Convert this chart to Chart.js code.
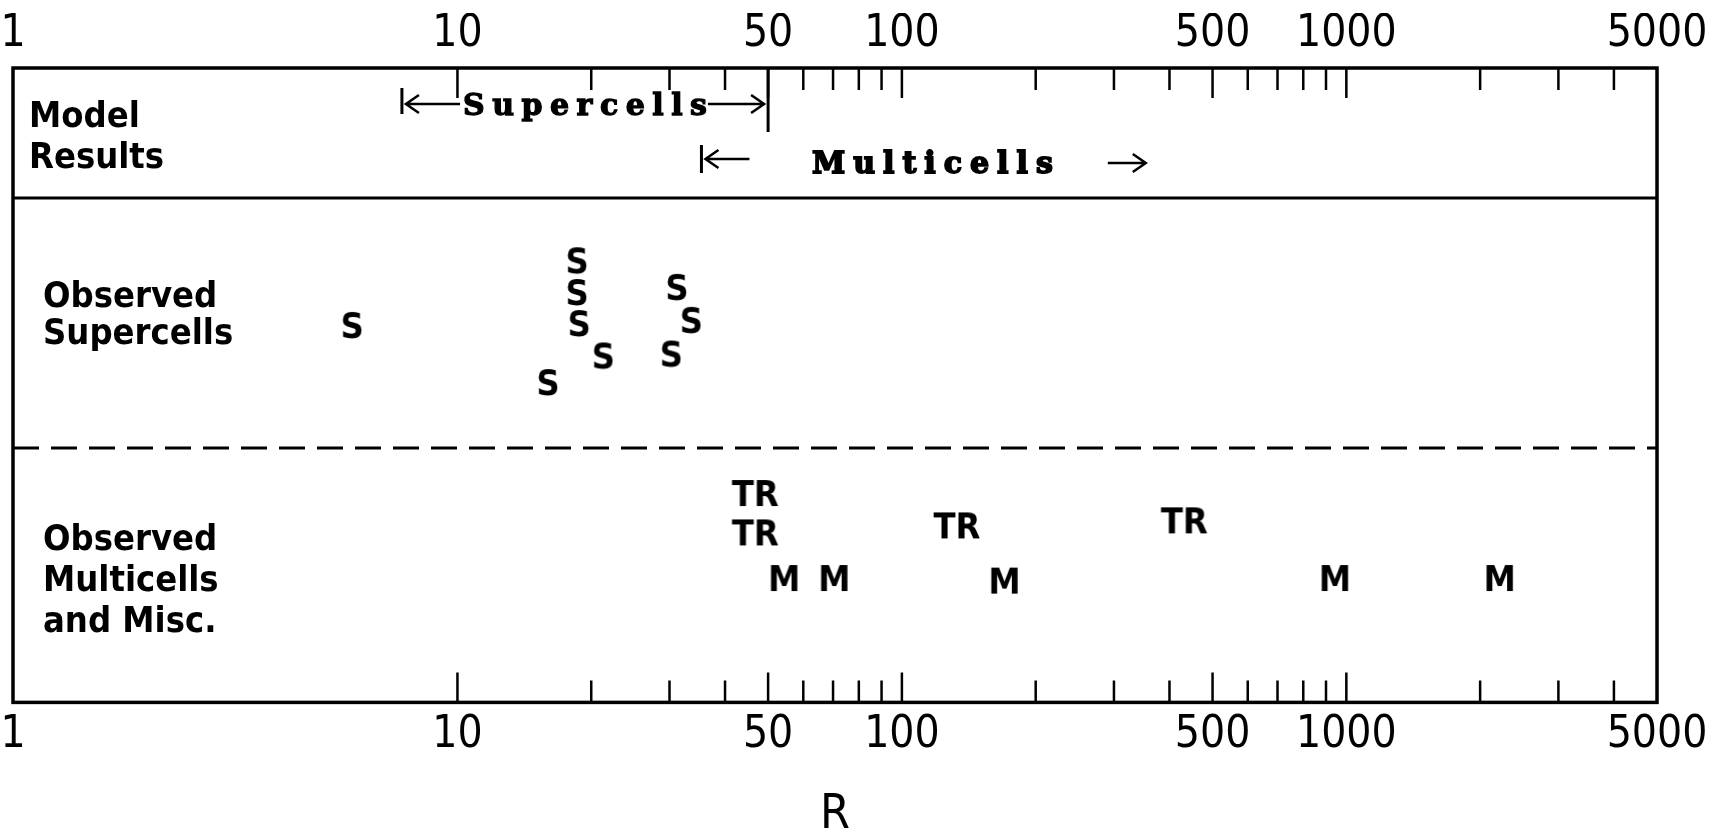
<!DOCTYPE html>
<html>
<head>
<meta charset="utf-8">
<title>R</title>
<script src="https://cdn.jsdelivr.net/npm/chart.js@4.4.1/dist/chart.umd.min.js"></script>
<style>
  html, body { margin: 0; padding: 0; background: #fff; overflow: hidden; }
  #wrap { width: 1726px; height: 832px; }
</style>
</head>
<body>
<div id="wrap"><canvas id="rChart"></canvas></div>
<script>
// values: R on a log axis, row = height inside the frame (0..100)
const tickLabels = [1, 10, 50, 100, 500, 1000, 5000];
const longTicks = [10, 50, 100, 500, 1000];
const shortTicks = [20, 30, 40, 60, 70, 80, 90, 200, 300, 400, 600, 700, 800, 900, 2000, 3000, 4000];

const superR = [5.8, 18.6, 18.6, 18.8, 21.3, 16.0, 31.2, 33.6, 30.3];
const superRow = [59.5, 69.7, 64.7, 59.8, 54.7, 50.5, 65.5, 60.3, 55.0];
const tornR = [46.8, 46.8, 133, 432];
const tornRow = [33.0, 26.8, 27.9, 28.7];
const multiR = [54.3, 70.4, 170, 942, 2212];
const multiRow = [19.6, 19.6, 19.2, 19.6, 19.6];

const modelSuper = [7.5, 50];   // model says supercells in this range
const modelMulti = 35.4;        // model says multicells from here up
const panelBreaks = [79.5, 40.1];
const panelNames = [['Model', 'Results'], ['Observed', 'Supercells'], ['Observed', 'Multicells', 'and Misc.']];
const panelRows = [89.0, 60.9, 19.0];

const NARROW = '"DejaVu Sans Condensed", "DejaVu Sans", sans-serif';
const SLAB = '"DejaVu Serif", serif';

Chart.defaults.font.family = NARROW;
Chart.defaults.color = '#000';

// letters used as point markers
function letterImage(txt) {
    const c = document.createElement('canvas');
    let g = c.getContext('2d');
    g.font = 'bold 36px ' + NARROW;
    const w = Math.ceil(g.measureText(txt).width) + 4;
    c.width = w;
    c.height = 40;
    g = c.getContext('2d');
    g.font = 'bold 36px ' + NARROW;
    g.fillStyle = '#000';
    g.textAlign = 'center';
    g.textBaseline = 'alphabetic';
    g.fillText(txt, w / 2, 20 + 13);
    return c;
}

function spaced(ctx, txt, cx, y, gap) {
    const chars = [...txt];
    const widths = chars.map(ch => ctx.measureText(ch).width);
    const total = widths.reduce((a, b) => a + b, 0) + gap * (chars.length - 1);
    let x = cx - total / 2;
    ctx.textAlign = 'left';
    chars.forEach((ch, i) => {
        ctx.fillText(ch, x, y);
        ctx.strokeText(ch, x, y);
        x += widths[i] + gap;
    });
    return [cx - total / 2, cx + total / 2];
}

function arrow(ctx, x0, x1, y) {
    const d = x1 > x0 ? -1 : 1;
    ctx.beginPath();
    ctx.moveTo(x0, y);
    ctx.lineTo(x1, y);
    ctx.moveTo(x1 + d * 13, y - 9);
    ctx.lineTo(x1, y);
    ctx.lineTo(x1 + d * 13, y + 9);
    ctx.stroke();
}

function vbar(ctx, x, y0, y1) {
    ctx.beginPath();
    ctx.moveTo(x, y0);
    ctx.lineTo(x, y1);
    ctx.stroke();
}

const framePlugin = {
    id: 'frame',
    afterDraw(chart) {
        const { ctx, chartArea: a, scales: { x, y } } = chart;
        ctx.save();
        ctx.strokeStyle = '#000';
        ctx.fillStyle = '#000';

        ctx.lineWidth = 3.5;
        ctx.strokeRect(a.left, a.top, a.right - a.left, a.bottom - a.top);

        // tick marks point inward, top and bottom
        ctx.lineWidth = 2.5;
        ctx.beginPath();
        longTicks.concat(shortTicks).forEach(v => {
            const px = x.getPixelForValue(v);
            const len = longTicks.includes(v) ? 30 : 22;
            ctx.moveTo(px, a.top);
            ctx.lineTo(px, a.top + len);
            ctx.moveTo(px, a.bottom);
            ctx.lineTo(px, a.bottom - len);
        });
        ctx.stroke();

        // panel separators
        ctx.lineWidth = 3;
        let py = y.getPixelForValue(panelBreaks[0]);
        ctx.beginPath(); ctx.moveTo(a.left, py); ctx.lineTo(a.right, py); ctx.stroke();
        py = y.getPixelForValue(panelBreaks[1]);
        ctx.setLineDash([26, 12]);
        ctx.beginPath(); ctx.moveTo(a.left, py); ctx.lineTo(a.right, py); ctx.stroke();
        ctx.setLineDash([]);

        // panel names
        ctx.font = 'bold 36px ' + NARROW;
        ctx.textAlign = 'left';
        ctx.textBaseline = 'middle';
        panelNames.forEach((lines, i) => {
            const cy = y.getPixelForValue(panelRows[i]);
            const lh = i === 1 ? 37 : 41;
            const indent = i === 0 ? 16 : 30;
            lines.forEach((t, j) => ctx.fillText(t, a.left + indent, cy + (j - (lines.length - 1) / 2) * lh));
        });

        // model results: supercell range
        ctx.lineWidth = 3;
        const s0 = x.getPixelForValue(modelSuper[0]);
        const s1 = x.getPixelForValue(modelSuper[1]);
        vbar(ctx, s0, a.top + 20, a.top + 46);
        vbar(ctx, s1, a.top, a.top + 64);
        ctx.font = 'bold 30px ' + SLAB;
        ctx.textBaseline = 'alphabetic';
        ctx.lineWidth = 1.3;
        const [t0, t1] = spaced(ctx, 'Supercells', (s0 + s1) / 2, a.top + 47, 7.5);
        ctx.lineWidth = 2.5;
        arrow(ctx, t0 - 3, s0 + 4, a.top + 36);
        arrow(ctx, t1 + 1, s1 - 4, a.top + 36);

        // model results: multicells
        ctx.lineWidth = 3;
        const m0 = x.getPixelForValue(modelMulti);
        vbar(ctx, m0, a.top + 77, a.top + 105);
        ctx.lineWidth = 2.5;
        arrow(ctx, m0 + 48, m0 + 4, a.top + 91);
        ctx.lineWidth = 1.8;
        const [, u1] = spaced(ctx, 'Multicells', m0 + 231, a.top + 105, 8);
        ctx.lineWidth = 2.5;
        arrow(ctx, u1 + 55, u1 + 93, a.top + 95);

        ctx.restore();
    }
};

const pointSet = (label, rs, rows, txt) => ({
    label: label,
    data: rs.map((r, i) => ({ x: r, y: rows[i] })),
    pointStyle: letterImage(txt),
    pointRadius: 12,
    showLine: false
});

// log axis with only the labelled values; gap to frame comes from tickLength
const logAxis = (position, gap) => ({
    type: 'logarithmic',
    position: position,
    min: 1,
    max: 5000,
    grid: { display: false, drawTicks: true, tickLength: gap },
    border: { display: false },
    afterBuildTicks: s => { s.ticks = tickLabels.map(v => ({ value: v })); },
    afterFit: s => { s.paddingLeft = 0; s.paddingRight = 0; },
    ticks: {
        autoSkip: false,
        maxRotation: 0,
        padding: 0,
        color: '#000',
        font: { size: 44, lineHeight: 1 },
        callback: v => String(v)
    }
});

const xBottom = logAxis('bottom', 11);
xBottom.title = { display: true, text: 'R', color: '#000', font: { size: 48, lineHeight: 0.7 }, padding: { top: 41, bottom: 0 } };

new Chart(document.getElementById('rChart'), {
    type: 'scatter',
    data: {
        datasets: [
            pointSet('Observed supercells', superR, superRow, 'S'),
            pointSet('TR', tornR, tornRow, 'TR'),
            pointSet('Multicells', multiR, multiRow, 'M')
        ]
    },
    options: {
        responsive: true,
        maintainAspectRatio: false,
        animation: false,
        events: [],
        layout: { padding: { left: 9, right: 69, top: 13, bottom: 0 } },
        plugins: { legend: { display: false }, tooltip: { enabled: false } },
        scales: {
            x: xBottom,
            x2: logAxis('top', 11),
            y: { display: false, min: 0, max: 100 }
        }
    },
    plugins: [framePlugin]
});
</script>
</body>
</html>
